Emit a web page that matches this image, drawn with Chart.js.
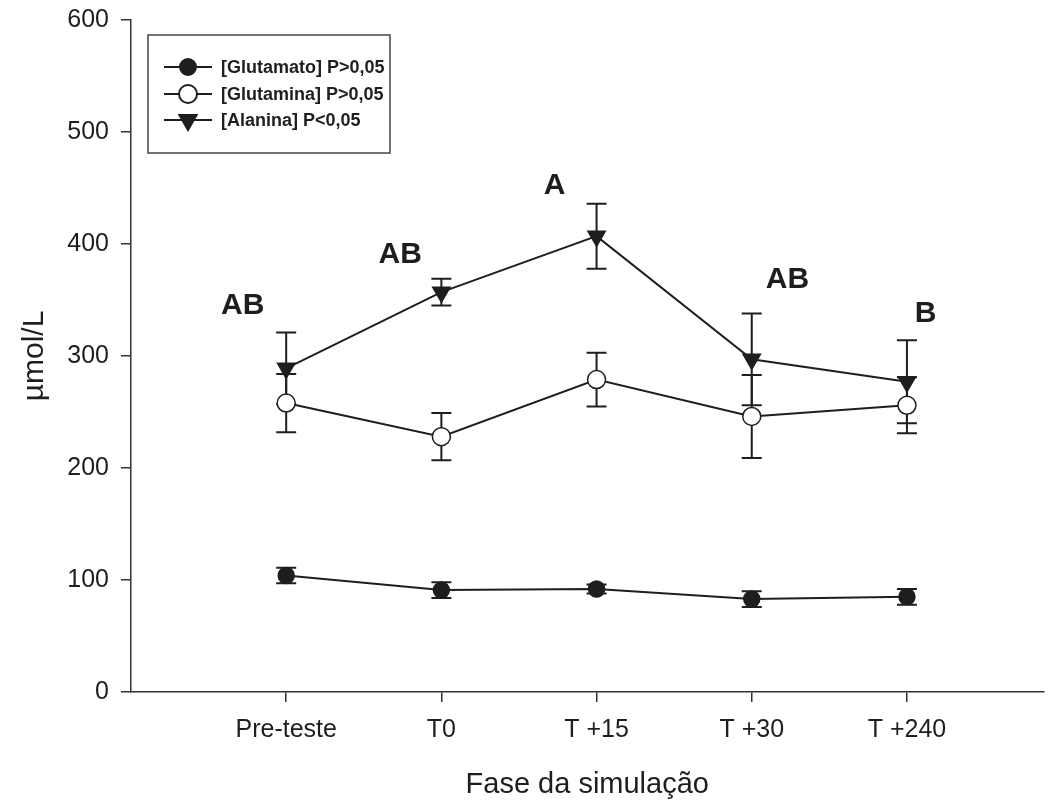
<!DOCTYPE html>
<html>
<head>
<meta charset="utf-8">
<script src="https://cdn.jsdelivr.net/npm/chart.js@4.4.1/dist/chart.umd.min.js"></script>
<style>
  html, body { margin: 0; padding: 0; background: #fff; overflow: hidden; }
  #wrap { width: 1055px; height: 806px; }
</style>
</head>
<body>
<div id="wrap"><canvas id="chart" width="1055" height="806"></canvas></div>
<script>
// categorias e valores
const categories = ["Pre-teste", "T0", "T +15", "T +30", "T +240"];
const yTicks = [0, 100, 200, 300, 400, 500, 600];

const glutamato = [104, 91, 92, 83, 85];
const glutamatoErr = [7, 7, 4, 7, 7];
const glutamina = [258, 228, 279, 246, 256];
const glutaminaErr = [26, 21, 24, 37, 25];
const alanina = [289, 357, 407, 297, 277];
const alaninaErr = [32, 12, 29, 41, 37];

const legendLabels = ["[Glutamato] P>0,05", "[Glutamina] P>0,05", "[Alanina] P<0,05"];

// letras de significância (texto, x em unidades de categoria, y em µmol/L)
const sigText = ["AB", "AB", "A", "AB", "B"];
const sigX = [0.72, 1.735, 2.73, 4.23, 5.12];
const sigY = [345, 390, 452, 368, 338];

const INK = "#1e1e1e";
const FONT = "'Liberation Sans', Arial, sans-serif";

function toPoints(arr) {
    return arr.map((v, i) => ({ x: i + 1, y: v }));
}

const errors = [glutamatoErr, glutaminaErr, alaninaErr];

// barras de erro desenhadas antes dos marcadores
const errorBarPlugin = {
    id: "errorBars",
    beforeDatasetsDraw(chart) {
        const ctx = chart.ctx;
        const xs = chart.scales.x, ys = chart.scales.y;
        ctx.save();
        ctx.strokeStyle = INK;
        ctx.lineWidth = 2;
        chart.data.datasets.forEach((ds, di) => {
            ds.data.forEach((p, i) => {
                const e = errors[di][i];
                const x = xs.getPixelForValue(p.x);
                const yTop = ys.getPixelForValue(p.y + e);
                const yBot = ys.getPixelForValue(p.y - e);
                ctx.beginPath();
                ctx.moveTo(x, yTop); ctx.lineTo(x, yBot);
                ctx.moveTo(x - 10, yTop); ctx.lineTo(x + 10, yTop);
                ctx.moveTo(x - 10, yBot); ctx.lineTo(x + 10, yBot);
                ctx.stroke();
            });
        });
        ctx.restore();
    }
};

// letras e legenda em caixa
const overlayPlugin = {
    id: "overlay",
    afterDatasetsDraw(chart) {
        const ctx = chart.ctx;
        const xs = chart.scales.x, ys = chart.scales.y;
        ctx.save();
        ctx.fillStyle = INK;
        ctx.font = "bold 30px " + FONT;
        ctx.textAlign = "center";
        ctx.textBaseline = "middle";
        sigText.forEach((t, i) => {
            ctx.fillText(t, xs.getPixelForValue(sigX[i]), ys.getPixelForValue(sigY[i]));
        });

        // caixa da legenda
        ctx.strokeStyle = "#444";
        ctx.lineWidth = 1.5;
        ctx.strokeRect(148, 35, 242, 118);

        ctx.font = "bold 18px " + FONT;
        ctx.textAlign = "left";
        const rows = [67, 94, 120];
        chart.data.datasets.forEach((ds, i) => {
            const y = rows[i];
            ctx.strokeStyle = INK;
            ctx.lineWidth = 2;
            ctx.beginPath();
            ctx.moveTo(164, y); ctx.lineTo(212, y);
            ctx.stroke();
            ctx.fillStyle = ds.pointBackgroundColor;
            ctx.strokeStyle = INK;
            Chart.helpers.drawPoint(ctx, {
                pointStyle: ds.pointStyle,
                radius: ds.pointRadius,
                rotation: ds.pointRotation || 0,
                borderWidth: ds.pointBorderWidth
            }, 188, y);
            ctx.fillStyle = INK;
            ctx.fillText(legendLabels[i], 221, y + 1);
        });
        ctx.restore();
    }
};

function makeDataset(label, values, style, fill, radius, rotation) {
    return {
        label: label,
        data: toPoints(values),
        borderColor: INK,
        borderWidth: 2,
        pointStyle: style,
        pointRadius: radius,
        pointHoverRadius: radius,
        pointRotation: rotation,
        pointBackgroundColor: fill,
        pointBorderColor: INK,
        pointBorderWidth: 1.5,
        fill: false,
        tension: 0
    };
}

new Chart(document.getElementById("chart"), {
    type: "line",
    data: {
        datasets: [
            makeDataset(legendLabels[0], glutamato, "circle", INK, 8, 0),
            makeDataset(legendLabels[1], glutamina, "circle", "#ffffff", 9, 0),
            makeDataset(legendLabels[2], alanina, "triangle", INK, 10, 180)
        ]
    },
    options: {
        responsive: false,
        animation: false,
        layout: { padding: { top: 20, right: 0, left: 0, bottom: 0 } },
        plugins: {
            legend: { display: false },
            tooltip: { enabled: false }
        },
        scales: {
            x: {
                type: "linear",
                min: 0,
                max: 5.88,
                afterBuildTicks(scale) {
                    scale.ticks = categories.map((c, i) => ({ value: i + 1 }));
                },
                afterFit(scale) {
                    scale.height = 114;
                    scale.paddingLeft = 0;
                    scale.paddingRight = 0;
                },
                ticks: {
                    callback: (v) => categories[v - 1],
                    color: INK,
                    font: { family: FONT, size: 25 },
                    padding: 13,
                    maxRotation: 0
                },
                grid: {
                    drawOnChartArea: false,
                    drawTicks: true,
                    tickLength: 10,
                    color: "#333",
                    lineWidth: 1.5
                },
                border: { display: true, color: "#333", width: 1.5 },
                title: {
                    display: true,
                    text: "Fase da simulação",
                    color: INK,
                    font: { family: FONT, size: 29 },
                    padding: { top: 0, bottom: 4 }
                }
            },
            y: {
                min: 0,
                max: 600,
                afterBuildTicks(scale) {
                    scale.ticks = yTicks.map(v => ({ value: v }));
                },
                afterFit(scale) {
                    scale.width = 131;
                    scale.paddingTop = 0;
                    scale.paddingBottom = 0;
                },
                ticks: {
                    color: INK,
                    font: { family: FONT, size: 25 },
                    padding: 12
                },
                grid: {
                    drawOnChartArea: false,
                    drawTicks: true,
                    tickLength: 10,
                    color: "#333",
                    lineWidth: 1.5
                },
                border: { display: true, color: "#333", width: 1.5 },
                title: {
                    display: true,
                    text: "µmol/L",
                    color: INK,
                    font: { family: FONT, size: 30 },
                    padding: { top: 17, bottom: 0 }
                }
            }
        }
    },
    plugins: [errorBarPlugin, overlayPlugin]
});
</script>
</body>
</html>
